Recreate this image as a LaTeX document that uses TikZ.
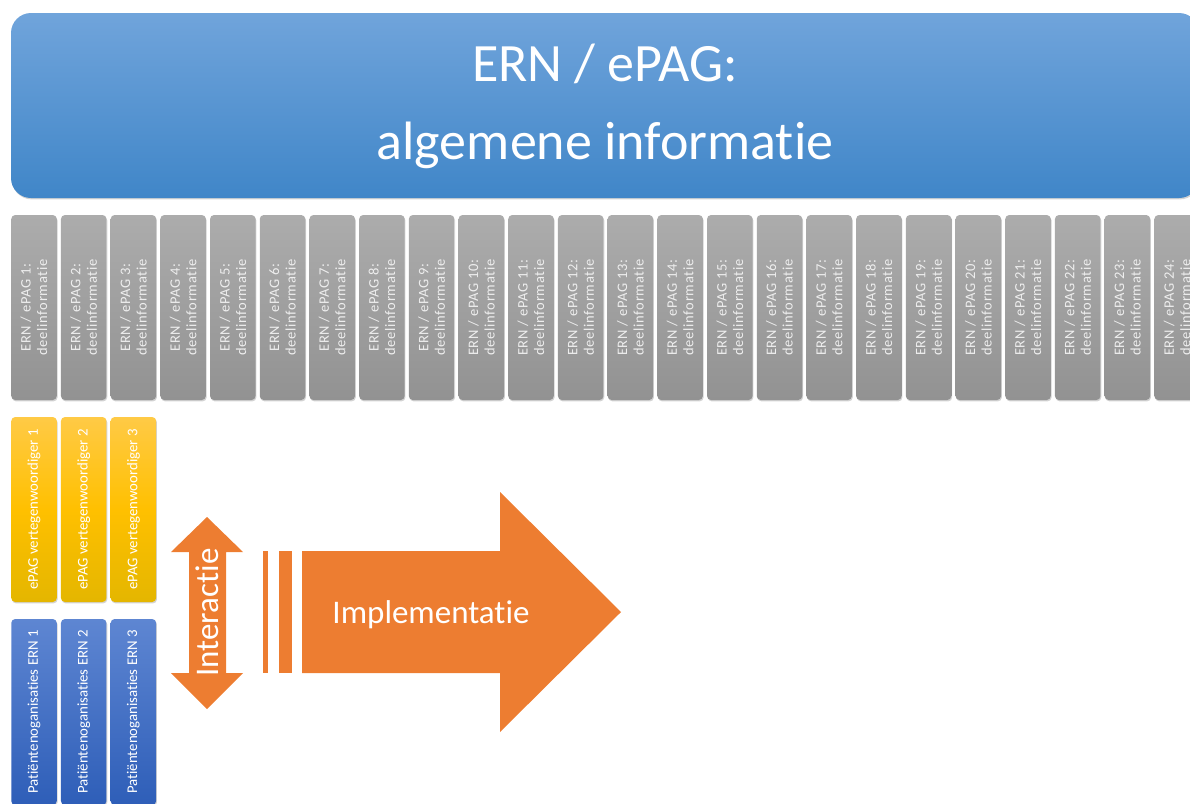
\documentclass[tikz,border=0pt]{standalone}
\usepackage{fontspec}
\setmainfont{Carlito}[Ligatures=NoCommon]
\newfontfamily\spacedfont{Carlito}[Ligatures=NoCommon,LetterSpace=5]
\usetikzlibrary{shadows}
\definecolor{bannerTop}{RGB}{112,164,219}
\definecolor{bannerBot}{RGB}{64,134,200}
\definecolor{grayTop}{RGB}{172,172,172}
\definecolor{grayBot}{RGB}{146,146,146}
\definecolor{ylwTop}{RGB}{255,202,70}
\definecolor{ylwMid}{RGB}{255,192,0}
\definecolor{ylwBot}{RGB}{228,182,0}
\definecolor{bluTop}{RGB}{94,134,210}
\definecolor{bluBot}{RGB}{46,94,184}
\definecolor{orng}{RGB}{237,125,49}
\definecolor{grayTxt}{RGB}{238,238,238}
\begin{document}
\begin{tikzpicture}[x=1pt,y=-1pt,
  shad/.style={drop shadow={shadow xshift=0.8pt,shadow yshift=-1.4pt,opacity=.35}},
  banner/.style={rounded corners=20pt,top color=bannerTop,bottom color=bannerBot,shad,
    minimum width=1188pt,minimum height=185pt,inner sep=0pt},
  graybox/.style={rounded corners=4pt,top color=grayTop,bottom color=grayBot,shad,
    minimum width=45.5pt,minimum height=185pt,inner sep=0pt},
  ylwbox/.style={rounded corners=4pt,top color=ylwTop,bottom color=ylwBot,middle color=ylwMid,shad,
    minimum width=45.5pt,minimum height=185pt,inner sep=0pt},
  blubox/.style={rounded corners=4pt,top color=bluTop,bottom color=bluBot,shad,
    minimum width=45.5pt,minimum height=186pt,inner sep=0pt},
  graytxt/.style={rotate=90,text=grayTxt,align=center,font=\spacedfont\fontsize{14.5}{16.5}\selectfont,inner sep=0pt},
  boxtxt/.style={rotate=90,text=white,font=\fontsize{14.8}{16.5}\selectfont,inner sep=0pt},
  bigtxt/.style={text=white,font=\fontsize{33}{38}\selectfont,inner sep=0pt},
  orngshape/.style={fill=orng,draw=none}]
\useasboundingbox (0,0) rectangle (1190,803);
\clip (0,0) rectangle (1190,803);

% banner
\node[banner] (banner) at (605,105.5) {};
\node[text=white,align=center,font=\fontsize{54}{78}\selectfont,inner sep=0pt] (title) at (605,106) {ERN / ePAG:\\algemene informatie};

% gray boxes
\foreach \i in {1,...,24}{
  \pgfmathsetmacro{\cx}{34+49.7*(\i-1)}
  \node[graybox] (g\i) at (\cx,307.5) {};
  \node[graytxt] (g\i t) at (g\i) {ERN / ePAG \i:\\deelinformatie};
}

% yellow and blue boxes
\foreach \i in {1,2,3}{
  \pgfmathsetmacro{\cx}{34+49.7*(\i-1)}
  \node[ylwbox] (y\i) at (\cx,509.5) {};
  \node[boxtxt] (y\i t) at (y\i) {ePAG vertegenwoordiger \i};
  \node[blubox] (b\i) at (\cx,712) {};
  \node[boxtxt] (b\i t) at (b\i) {Patiëntenoganisaties ERN \i};
}

% double arrow (Interactie)
\fill[orngshape] (207,517) -- (243,552) -- (226,552) -- (226,673) -- (243,673) -- (207,709)
  -- (171,673) -- (189,673) -- (189,552) -- (171,552) -- cycle;
\node[bigtxt,rotate=90] (inter) at (207.5,612.5) {Interactie};

% stripes and big arrow (Implementatie)
\fill[orngshape] (263,551) rectangle (268,673);
\fill[orngshape] (279,551) rectangle (292,673);
\fill[orngshape] (302,551) -- (500,551) -- (500,492) -- (621,612) -- (500,732) -- (500,673) -- (302,673) -- cycle;
\node[bigtxt] (impl) at (431,615) {Implementatie};
\end{tikzpicture}
\end{document}
